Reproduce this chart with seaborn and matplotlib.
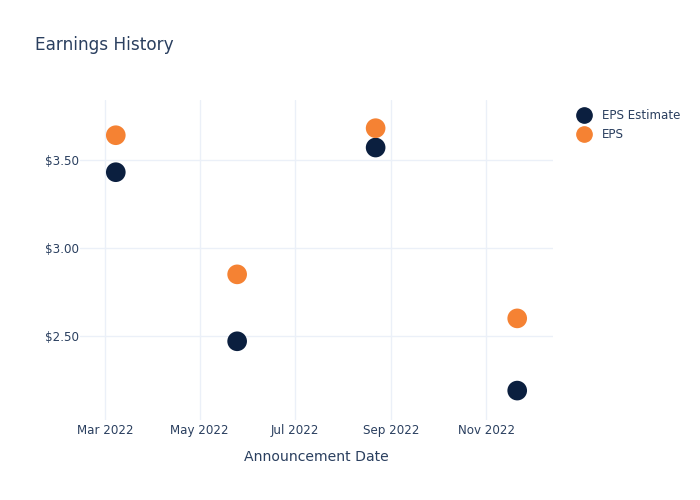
import matplotlib
matplotlib.use("Agg")
import matplotlib.pyplot as plt
import seaborn as sns
import pandas as pd
from matplotlib.lines import Line2D

dates = ["2022-03-08", "2022-05-25", "2022-08-22", "2022-11-21"]
eps_estimate = [3.43, 2.47, 3.57, 2.19]
eps_actual = [3.64, 2.85, 3.68, 2.60]
series_names = ["EPS Estimate", "EPS"]
colors = ["#0b1f3f", "#f58233"]

df = pd.DataFrame({
    "date": pd.to_datetime(dates * 2),
    "value": eps_estimate + eps_actual,
    "series": [series_names[0]] * len(dates) + [series_names[1]] * len(dates),
})

sns.set_style("white")
plt.rcParams["font.family"] = ["DejaVu Sans"]
text_color = "#2a3f5f"
grid_color = "#ebf0f8"

fig = plt.figure(figsize=(7, 5), dpi=100)
ax = fig.add_axes([80 / 700, 1 - 420 / 500, (553 - 80) / 700, 320 / 500])

sns.scatterplot(data=df, x="date", y="value", hue="series", hue_order=series_names,
                palette=colors, s=200, linewidth=0, ax=ax, legend=False, zorder=3)

ax.set_xlim(pd.Timestamp("2022-02-13"), pd.Timestamp("2022-12-14"))
ax.set_ylim(2.023, 3.84)
ax.set_yticks([2.5, 3.0, 3.5])
ax.set_yticklabels(["$2.50", "$3.00", "$3.50"])
xt = pd.to_datetime(["2022-03-01", "2022-05-01", "2022-07-01", "2022-09-01", "2022-11-01"])
ax.set_xticks(xt)
ax.set_xticklabels(["Mar 2022", "May 2022", "Jul 2022", "Sep 2022", "Nov 2022"])

ax.grid(True, color=grid_color, linewidth=1)
ax.set_axisbelow(True)
for sp in ax.spines.values():
    sp.set_visible(False)
ax.tick_params(axis="x", length=0, labelsize=8.6, colors=text_color, pad=3)
ax.tick_params(axis="y", length=0, labelsize=8.6, colors=text_color, pad=1)
ax.set_xlabel("Announcement Date", fontsize=10.1, color=text_color, labelpad=9)
ax.set_ylabel("")

fig.text(35 / 700, 1 - 45 / 500, "Earnings History", fontsize=12.2, color=text_color,
         ha="left", va="center")

handles = [Line2D([], [], marker="o", linestyle="", markersize=11, color=c) for c in colors]
fig.legend(handles, series_names, loc="upper left", bbox_to_anchor=(572 / 700, 1 - 104 / 500),
           frameon=False, fontsize=8.6, labelcolor=text_color, handletextpad=0.9,
           labelspacing=0.5, handlelength=1.2, borderaxespad=0)

fig.savefig("out.png", dpi=100)
